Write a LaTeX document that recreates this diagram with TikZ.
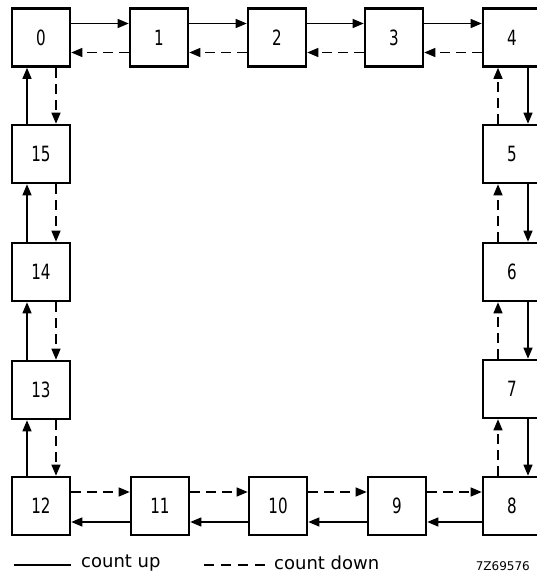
\documentclass[tikz,border=0pt]{standalone}
\usepackage{fontspec}
\setmainfont{DejaVu Sans}
\newfontfamily\numfont[FakeStretch=0.72]{DejaVu Sans}
\usetikzlibrary{arrows.meta}
\begin{document}
\begin{tikzpicture}[x=1pt,y=-1pt,
  box/.style={draw,line width=2.6pt,minimum width=58pt,minimum height=58pt,inner sep=0pt,font=\numfont\fontsize{21}{21}\selectfont},
  up/.style={line width=1.2pt,-{Triangle[length=11pt,width=9pt]}},
  down/.style={line width=1.2pt,dash pattern=on 10pt off 6pt,-{Triangle[length=11pt,width=9pt]}}]
\useasboundingbox (0,0) rectangle (536,575);
% top row
\node[box] (b0) at (41,37.5) {0};
\node[box] (b1) at (159,37.5) {1};
\node[box] (b2) at (277,37.5) {2};
\node[box] (b3) at (394,37.5) {3};
\node[box] (b4) at (512,37.5) {4};
% right column
\node[box] (b5) at (512,154) {5};
\node[box] (b6) at (512,272) {6};
\node[box] (b7) at (512,389) {7};
\node[box] (b8) at (512,506) {8};
% bottom row
\node[box] (b9) at (397,506) {9};
\node[box] (b10) at (278,506) {10};
\node[box] (b11) at (160,506) {11};
\node[box] (b12) at (41,506) {12};
% left column
\node[box] (b13) at (41,390) {13};
\node[box] (b14) at (41,272) {14};
\node[box] (b15) at (41,154) {15};
% top row arrows
\foreach \a/\b in {b0/b1,b1/b2,b2/b3,b3/b4}{
  \draw[up] ([yshift=14pt]\a.east) -- ([yshift=14pt]\b.west);
  \draw[down] ([yshift=-15pt]\b.west) -- ([yshift=-15pt]\a.east);
}
% right column arrows
\foreach \a/\b in {b4/b5,b5/b6,b6/b7,b7/b8}{
  \draw[up] ([xshift=16pt]\a.south) -- ([xshift=16pt]\b.north);
  \draw[down] ([xshift=-14pt]\b.north) -- ([xshift=-14pt]\a.south);
}
% bottom row arrows
\foreach \a/\b in {b8/b9,b9/b10,b10/b11,b11/b12}{
  \draw[up] ([yshift=-16pt]\a.west) -- ([yshift=-16pt]\b.east);
  \draw[down] ([yshift=14pt]\b.east) -- ([yshift=14pt]\a.west);
}
% left column arrows
\foreach \a/\b in {b12/b13,b13/b14,b14/b15,b15/b0}{
  \draw[up] ([xshift=-14pt]\a.north) -- ([xshift=-14pt]\b.south);
  \draw[down] ([xshift=15pt]\b.south) -- ([xshift=15pt]\a.north);
}
% legend
\coordinate (l1a) at (14,565);
\coordinate (l1b) at (71,565);
\draw[line width=1.2pt] (l1a) -- (l1b);
\node[anchor=west,inner sep=0pt,font=\fontsize{18}{18}\selectfont] (lu) at (81,563) {count up};
\coordinate (l2a) at (204,565);
\coordinate (l2b) at (266,565);
\draw[line width=1.2pt,dash pattern=on 10pt off 7pt] (l2a) -- (l2b);
\node[anchor=west,inner sep=0pt,font=\fontsize{18}{18}\selectfont] (ld) at (274,563) {count down};
\node[anchor=east,inner sep=0pt,font=\fontsize{12}{12}\selectfont] (code) at (530,566) {7Z69576};
\end{tikzpicture}
\end{document}
